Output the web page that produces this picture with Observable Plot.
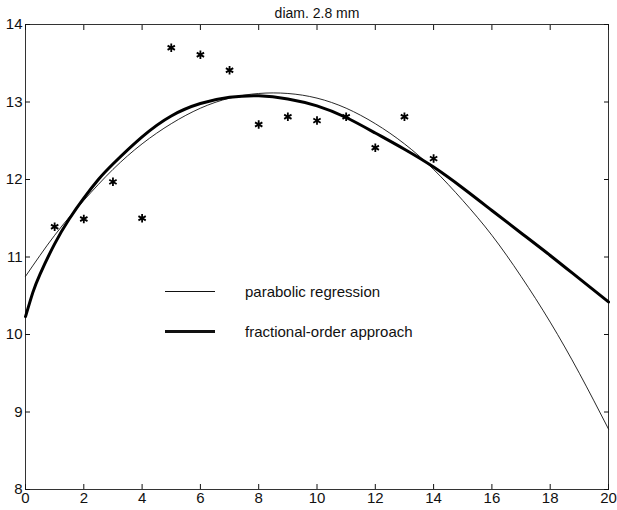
<!DOCTYPE html>
<html>
<head>
<meta charset="utf-8">
<script src="https://cdn.jsdelivr.net/npm/d3@7"></script>
<script src="https://cdn.jsdelivr.net/npm/@observablehq/plot@0.6"></script>
<style>
  html, body { margin: 0; padding: 0; background: #fff; }
  #wrap { position: relative; width: 617px; height: 510px; font-family: "Liberation Sans", Arial, sans-serif; }
  .leg { position: absolute; display: flex; align-items: center; font-size: 15px; color: #111; white-space: nowrap; }
  .leg .sw { display: inline-block; width: 50px; margin-right: 30px; background: #111; }
</style>
</head>
<body>
<div id="wrap"></div>
<script>
// ---- data ----
const title = "diam. 2.8 mm";
const measuredX = [1, 2, 3, 4, 5, 6, 7, 8, 9, 10, 11, 12, 13, 14];
const measuredY = [11.39, 11.49, 11.97, 11.50, 13.70, 13.61, 13.41, 12.71, 12.81, 12.76, 12.81, 12.41, 12.81, 12.27];

const parabolicX = [0, 1, 2, 3, 4, 5, 6, 7, 8, 9, 10, 11, 12, 13, 14, 15, 16, 17, 18, 19, 20];
const parabolicY = [10.75, 11.28, 11.73, 12.13, 12.46, 12.72, 12.92, 13.05, 13.11, 13.11, 13.05, 12.92, 12.72, 12.46, 12.13, 11.73, 11.28, 10.75, 10.16, 9.50, 8.78];

const fractionalX = [0, 0.25, 0.5, 1, 1.5, 2, 2.5, 3, 4, 5, 6, 7, 8, 9, 10, 11, 12, 13, 14, 15, 16, 17, 18, 19, 20];
const fractionalY = [10.23, 10.54, 10.78, 11.17, 11.49, 11.76, 12.0, 12.2, 12.55, 12.82, 12.98, 13.06, 13.08, 13.04, 12.95, 12.8, 12.6, 12.39, 12.16, 11.89, 11.6, 11.31, 11.02, 10.72, 10.42];

const xTicks = [0, 2, 4, 6, 8, 10, 12, 14, 16, 18, 20];
const yTicks = [8, 9, 10, 11, 12, 13, 14];
const legendLabels = ["parabolic regression", "fractional-order approach"];

// ---- build tables ----
const measured = measuredX.map((x, i) => ({x, y: measuredY[i]}));
const parabolic = parabolicX.map((x, i) => ({x, y: parabolicY[i]}));
const fractional = fractionalX.map((x, i) => ({x, y: fractionalY[i]}));
const intFmt = d => String(d);

const chart = Plot.plot({
  width: 617,
  height: 510,
  marginLeft: 25,
  marginRight: 9,
  marginTop: 24,
  marginBottom: 21,
  style: { fontFamily: '"Liberation Sans", Arial, sans-serif', fontSize: "15px", background: "white", color: "#111" },
  x: { domain: [0, 20] },
  y: { domain: [8, 14] },
  marks: [
    Plot.frame({ stroke: "#333", strokeWidth: 1 }),
    Plot.axisX(xTicks, { anchor: "bottom", tickSize: -5, tickPadding: 8, tickFormat: intFmt, label: null, fontSize: 15 }),
    Plot.axisX(xTicks, { anchor: "top", tickSize: -5, tickFormat: () => "", label: null }),
    Plot.axisY(yTicks, { anchor: "left", tickSize: -5, tickPadding: 8, tickFormat: intFmt, label: null, fontSize: 15 }),
    Plot.axisY(yTicks, { anchor: "right", tickSize: -5, tickFormat: () => "", label: null }),
    Plot.line(parabolic, { x: "x", y: "y", curve: "natural", stroke: "#111", strokeWidth: 0.9 }),
    Plot.line(fractional, { x: "x", y: "y", curve: "natural", stroke: "#000", strokeWidth: 3 }),
    Plot.dot(measured, { x: "x", y: "y", symbol: "asterisk", r: 4, stroke: "#000", strokeWidth: 1.8 }),
    Plot.text([title], { frameAnchor: "top", dy: -16, fontSize: 14, fill: "#111" })
  ]
});

const wrap = document.getElementById("wrap");
wrap.appendChild(chart);

// legend overlay
const legendTops = [283, 323];
const legendWidths = [1, 3];
legendLabels.forEach((lab, i) => {
  const d = document.createElement("div");
  d.className = "leg";
  d.style.left = "165px";
  d.style.top = legendTops[i] + "px";
  const sw = document.createElement("span");
  sw.className = "sw";
  sw.style.height = legendWidths[i] + "px";
  d.appendChild(sw);
  d.appendChild(document.createTextNode(lab));
  wrap.appendChild(d);
});
</script>
</body>
</html>
